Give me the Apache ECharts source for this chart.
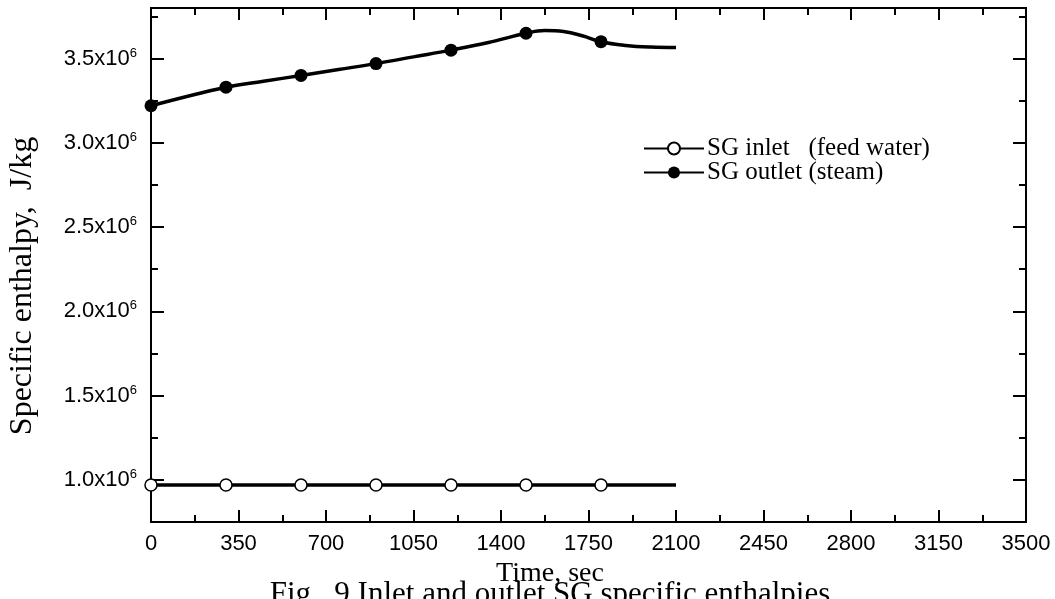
<!DOCTYPE html>
<html>
<head>
<meta charset="utf-8">
<script src="https://cdn.jsdelivr.net/npm/echarts@6/dist/echarts.min.js"></script>
<style>
  html, body { margin: 0; padding: 0; background: #fff; }
  #main { width: 1055px; height: 599px; }
</style>
</head>
<body>
<div id="main"></div>
<script>
// time axis, sec
var timeInlet = [0, 300, 600, 900, 1200, 1500, 1800, 2100];
var enthInlet = [0.97e6, 0.97e6, 0.97e6, 0.97e6, 0.97e6, 0.97e6, 0.97e6, 0.97e6];

var timeOutlet = [0, 300, 450, 600, 750, 900, 1050, 1200, 1350, 1500, 1575, 1650, 1725, 1800, 1900, 2000, 2100];
var enthOutlet = [3.22e6, 3.33e6, 3.365e6, 3.40e6, 3.435e6, 3.47e6, 3.51e6, 3.55e6, 3.595e6, 3.65e6, 3.666e6, 3.66e6, 3.635e6, 3.60e6, 3.578e6, 3.568e6, 3.565e6];

// points that carry a marker
var markerTimes = [0, 300, 600, 900, 1200, 1500, 1800];

var yMajorTicks = [1.0e6, 1.5e6, 2.0e6, 2.5e6, 3.0e6, 3.5e6];
var yMinorTicks = [1.25e6, 1.75e6, 2.25e6, 2.75e6, 3.25e6, 3.75e6];

var seriesNames = ['SG inlet   (feed water)', 'SG outlet (steam)'];

function toPoints(ts, vs) {
  return ts.map(function (t, i) {
    var p = { value: [t, vs[i]] };
    if (markerTimes.indexOf(t) < 0) p.symbol = 'none';
    return p;
  });
}

var black = '#000';
var sans = '"Liberation Sans", Arial, sans-serif';
var serif = '"Liberation Serif", "Times New Roman", serif';

function yAxisBase(pos, ticks, len, showLabel) {
  return {
    type: 'value',
    position: pos,
    min: 0.75e6,
    max: 3.8e6,
    splitLine: { show: false },
    axisLine: { show: true, onZero: false, lineStyle: { color: black, width: 2 } },
    axisTick: { show: true, inside: true, length: len, customValues: ticks, lineStyle: { color: black, width: 2 } },
    axisLabel: showLabel ? {
      customValues: yMajorTicks,
      margin: 14,
      formatter: function (v) {
        return '{n|' + (v / 1e6).toFixed(1) + 'x10}{e|6}';
      },
      rich: {
        n: { fontSize: 22, fontFamily: sans, color: black, lineHeight: 24 },
        e: { fontSize: 13, fontFamily: sans, color: black, verticalAlign: 'top', lineHeight: 13 }
      }
    } : { show: false }
  };
}

function xAxisBase(pos, showLabel) {
  return {
    type: 'value',
    position: pos,
    min: 0,
    max: 3500,
    interval: 350,
    splitLine: { show: false },
    axisLine: { show: true, onZero: false, lineStyle: { color: black, width: 2 } },
    axisTick: { show: true, inside: true, length: 12, lineStyle: { color: black, width: 2 } },
    minorTick: { show: true, splitNumber: 2, length: 7, lineStyle: { color: black, width: 2 } },
    axisLabel: showLabel ? {
      fontSize: 22, fontFamily: sans, color: black, margin: 11,
      formatter: function (v) { return String(v); }
    } : { show: false }
  };
}

var legendText = { fontSize: 25, fontFamily: serif, color: black, lineHeight: 24, padding: [0, 0, 0, -2] };

var chart = echarts.init(document.getElementById('main'));

chart.setOption({
  backgroundColor: '#fff',
  animation: false,
  grid: { left: 151, right: 29, top: 8, bottom: 77 },
  xAxis: [xAxisBase('bottom', true), xAxisBase('top', false)],
  yAxis: [
    yAxisBase('left', yMajorTicks, 13, true),
    yAxisBase('left', yMinorTicks, 7, false),
    yAxisBase('right', yMajorTicks, 13, false),
    yAxisBase('right', yMinorTicks, 7, false)
  ],
  legend: [
    {
      data: [seriesNames[0]],
      left: 638, top: 131,
      itemWidth: 60, itemHeight: 15, itemGap: 0,
      textStyle: legendText
    },
    {
      data: [seriesNames[1]],
      left: 638, top: 155,
      itemWidth: 60, itemHeight: 15, itemGap: 0,
      textStyle: legendText
    }
  ],
  graphic: [
    {
      type: 'text', x: 23, y: 286, rotation: Math.PI / 2,
      style: { text: 'Specific enthalpy,  J/kg', font: '32px ' + serif, fill: black, textAlign: 'center', textVerticalAlign: 'middle' }
    },
    {
      type: 'text', x: 550, y: 574,
      style: { text: 'Time, sec', font: '28px ' + serif, fill: black, textAlign: 'center', textVerticalAlign: 'middle' }
    },
    {
      type: 'text', x: 550, y: 579,
      style: { text: 'Fig.  9 Inlet and outlet SG specific enthalpies', font: '31px ' + serif, fill: black, textAlign: 'center', textVerticalAlign: 'top' }
    }
  ],
  series: [
    {
      name: seriesNames[0],
      type: 'line',
      data: toPoints(timeInlet, enthInlet),
      symbol: 'circle',
      symbolSize: 12,
      lineStyle: { color: black, width: 3.5 },
      itemStyle: { color: '#fff', borderColor: black, borderWidth: 1.5 },
      z: 3
    },
    {
      name: seriesNames[1],
      type: 'line',
      data: toPoints(timeOutlet, enthOutlet),
      smooth: 0.4,
      symbol: 'circle',
      symbolSize: 13,
      lineStyle: { color: black, width: 3.5 },
      itemStyle: { color: black, borderColor: black, borderWidth: 0 },
      z: 3
    }
  ]
});
</script>
</body>
</html>
